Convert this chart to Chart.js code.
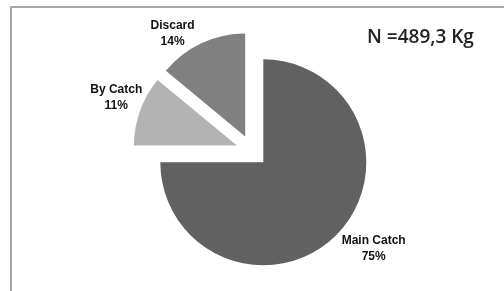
<!DOCTYPE html>
<html>
<head>
<meta charset="utf-8">
<script src="https://cdn.jsdelivr.net/npm/chart.js@4.4.0/dist/chart.umd.min.js"></script>
<style>
  body { margin: 0; background: #fff; }
  #wrap { position: relative; width: 504px; height: 291px; }
  #frame { position: absolute; left: 10px; top: 6px; right: 0; bottom: 0;
           border-left: 2px solid #a8a8a8; border-top: 2px solid #a8a8a8; }
  canvas { position: absolute; left: 0; top: 0; }
</style>
</head>
<body>
<div id="wrap">
  <div id="frame"></div>
  <canvas id="catch-pie" width="504" height="291"></canvas>
</div>
<script>
// Catch composition (% of total weight)
var categories = ["Main Catch", "By Catch", "Discard"];
var percents = [75, 11, 14];
var totalText = "N =489,3 Kg";

var sliceColors = ["#616161", "#b3b3b3", "#808080"];

// push every slice out from the centre along its mid angle (exploded pie)
function explodeShift(arc, dist) {
    var p = arc.getProps(["startAngle", "endAngle"]);
    var mid = (p.startAngle + p.endAngle) / 2;
    return { dx: Math.cos(mid) * dist, dy: Math.sin(mid) * dist, mid: mid };
}

var explodedPie = {
    id: "explodedPie",
    beforeDatasetDraw: function(chart, args, opts) {
        var ctx = chart.ctx;
        args.meta.data.forEach(function(arc) {
            var s = explodeShift(arc, opts.explode);
            ctx.save();
            ctx.translate(s.dx, s.dy);
            arc.draw(ctx, chart.chartArea);
            ctx.restore();
        });
        return false;
    },
    afterDatasetsDraw: function(chart, args, opts) {
        var ctx = chart.ctx;
        var meta = chart.getDatasetMeta(0);
        meta.data.forEach(function(arc, i) {
            var p = arc.getProps(["x", "y", "outerRadius"]);
            var s = explodeShift(arc, opts.explode);
            var a = s.mid + opts.nudge[i] * Math.PI / 180;
            var d = p.outerRadius + opts.gap[i];
            var lx = p.x + s.dx + Math.cos(a) * d;
            var ly = p.y + s.dy + Math.sin(a) * d;

            ctx.save();
            ctx.fillStyle = "#111";
            ctx.font = "bold 12px 'Liberation Sans', Arial, sans-serif";
            ctx.textAlign = "center";
            ctx.textBaseline = "middle";
            ctx.fillText(chart.data.labels[i], lx, ly - 8);
            ctx.fillText(percents[i] + "%", lx, ly + 8);
            ctx.restore();
        });

        // total weight note
        ctx.save();
        ctx.fillStyle = "#222";
        ctx.font = "600 19px 'Open Sans', sans-serif";
        ctx.textAlign = "left";
        ctx.textBaseline = "alphabetic";
        ctx.fillText(totalText, 367, 43);
        ctx.restore();
    }
};

var ctx = document.getElementById("catch-pie");

var chartData = {
    labels: categories,
    datasets: [{
        data: percents,
        backgroundColor: sliceColors,
        borderWidth: 0
    }]
};

var chartOptions = {
    responsive: false,
    animation: false,
    radius: 103,
    layout: { padding: { top: 11 } },
    plugins: {
        legend: { display: false },
        tooltip: { enabled: false },
        explodedPie: { explode: 16, nudge: [-7, 2, -10], gap: [37, 27, 23] }
    }
};

var pieChart = new Chart(ctx, {
    type: "pie",
    data: chartData,
    options: chartOptions,
    plugins: [explodedPie]
});
</script>
</body>
</html>
